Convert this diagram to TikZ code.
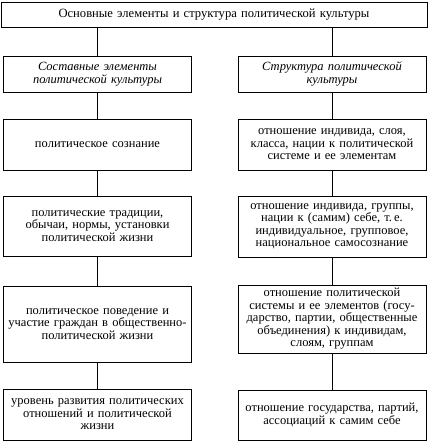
\documentclass[tikz,border=0pt]{standalone}
\usepackage{fontspec}
\setmainfont{Liberation Serif}
\begin{document}
\begin{tikzpicture}[x=1pt,y=-1pt,
  box/.style={draw=black,line width=0.9pt,rectangle,inner xsep=2pt,inner ysep=0pt,align=center,
    text width=184pt,font=\fontsize{12.5}{12.5}\selectfont},
  link/.style={draw=black,line width=0.9pt}]
\useasboundingbox (0,0) rectangle (432,444);
\fill[white] (0,0) rectangle (432,444);
% title
\node[box,text width=422pt,minimum height=25pt,font=\fontsize{12.6}{13}\selectfont] (T) at (214,14.5) {Основные элементы и структура политической культуры};
% left column
\node[box,minimum height=36pt] (L0) at (97.5,74) {\itshape Составные элементы\\\itshape политической культуры};
\node[box,minimum height=51pt] (L1) at (97.5,144.5) {политическое сознание};
\node[box,minimum height=60pt] (L2) at (97.5,226) {политические традиции,\\обычаи, нормы, установки\\политической жизни};
\node[box,minimum height=76pt] (L3) at (97.5,324) {политическое поведение и\\участие граждан в общественно-\\политической жизни};
\node[box,minimum height=51pt] (L4) at (97.5,414.5) {уровень развития политических\\отношений и политической\\жизни};
% right column
\node[box,minimum height=36pt] (R0) at (332,74) {\itshape Структура политической\\\itshape культуры};
\node[box,minimum height=51pt] (R1) at (332,144.5) {отношение индивида, слоя,\\класса, нации к политической\\системе и ее элементам};
\node[box,minimum height=61pt] (R2) at (332,226.5) {отношение индивида, группы,\\нации к (самим) себе, т.\,е.\\индивидуальное, групповое,\\национальное самосознание};
\node[box,minimum height=68pt] (R3) at (332,319) {отношение политической\\системы и ее элементов (госу-\\дарство, партии, общественные\\объединения) к индивидам,\\слоям, группам};
\node[box,minimum height=50pt] (R4) at (332,415) {отношение государства, партий,\\ассоциаций к самим себе};
% connectors
\draw[link] (T.south -| L0.north) -- (L0.north);
\draw[link] (T.south -| R0.north) -- (R0.north);
\draw[link] (L0) -- (L1);
\draw[link] (L1) -- (L2);
\draw[link] (L2) -- (L3);
\draw[link] (L3) -- (L4);
\draw[link] (R0) -- (R1);
\draw[link] (R1) -- (R2);
\draw[link] (R2) -- (R3);
\draw[link] (R3) -- (R4);
\end{tikzpicture}
\end{document}
